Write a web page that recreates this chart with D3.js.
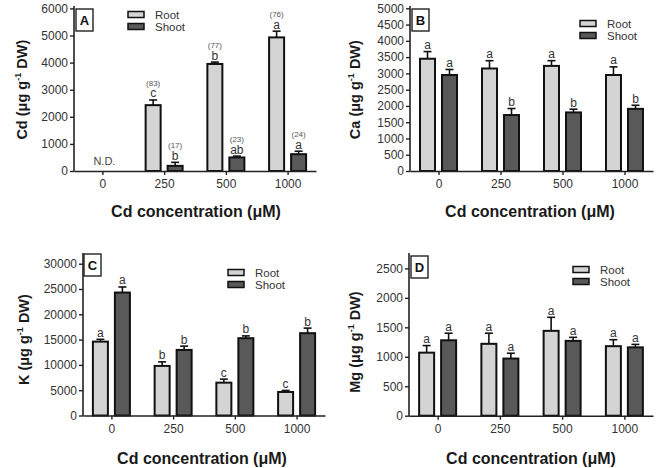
<!DOCTYPE html>
<html>
<head>
<meta charset="utf-8">
<script src="https://cdn.jsdelivr.net/npm/d3@7"></script>
<style>
  body { margin: 0; background: #fff; }
  text { font-family: "Liberation Sans", Arial, sans-serif; }
</style>
</head>
<body>
<svg id="fig" width="663" height="468"></svg>
<script>
const categories = ["0", "250", "500", "1000"];
const series = ["Root", "Shoot"];

// Panel A - Cd
const cdRoot = [null, 2430, 3950, 4930];
const cdRootErr = [null, 190, 70, 230];
const cdShoot = [null, 190, 500, 620];
const cdShootErr = [null, 130, 50, 110];
const cdRootLetters = ["", "c", "b", "a"];
const cdShootLetters = ["", "b", "ab", "a"];
const cdRootPct = ["", "(83)", "(77)", "(76)"];
const cdShootPct = ["", "(17)", "(23)", "(24)"];

// Panel B - Ca
const caRoot = [3450, 3150, 3230, 2950];
const caRootErr = [220, 240, 160, 250];
const caShoot = [2950, 1720, 1800, 1910];
const caShootErr = [170, 200, 100, 110];
const caRootLetters = ["a", "a", "a", "a"];
const caShootLetters = ["a", "b", "b", "b"];

// Panel C - K
const kRoot = [14600, 9800, 6490, 4650];
const kRootErr = [450, 800, 700, 300];
const kShoot = [24300, 12960, 15280, 16270];
const kShootErr = [1100, 750, 450, 1000];
const kRootLetters = ["a", "b", "c", "c"];
const kShootLetters = ["a", "b", "b", "b"];

// Panel D - Mg
const mgRoot = [1070, 1220, 1440, 1180];
const mgRootErr = [120, 180, 230, 110];
const mgShoot = [1280, 970, 1270, 1160];
const mgShootErr = [120, 90, 60, 50];
const mgRootLetters = ["a", "a", "a", "a"];
const mgShootLetters = ["a", "a", "a", "a"];

const yTicksA = d3.range(0, 6001, 1000);
const yTicksB = d3.range(0, 5001, 500);
const yTicksC = d3.range(0, 30001, 5000);
const yTicksD = d3.range(0, 2501, 500);

const fills = { Root: "#d4d4d4", Shoot: "#595959" };

const panels = [
  { tag: "A", el: "Cd", root: cdRoot, rootErr: cdRootErr, shoot: cdShoot, shootErr: cdShootErr,
    rootL: cdRootLetters, shootL: cdShootLetters, rootP: cdRootPct, shootP: cdShootPct,
    ticks: yTicksA, yMax: 6000,
    left: 74, right: 316, bottom: 171, top: 8.4, axisTop: 6,
    ylabX: 27, xlabX: 196, xlabY: 217, box: [76, 9], legend: [128, 10.5] },
  { tag: "B", el: "Ca", root: caRoot, rootErr: caRootErr, shoot: caShoot, shootErr: caShootErr,
    rootL: caRootLetters, shootL: caShootLetters,
    ticks: yTicksB, yMax: 5000,
    left: 410, right: 653, bottom: 171, top: 8.3, axisTop: 6,
    ylabX: 360, xlabX: 530, xlabY: 217, box: [412, 9], legend: [580, 19.5] },
  { tag: "C", el: "K", root: kRoot, rootErr: kRootErr, shoot: kShoot, shootErr: kShootErr,
    rootL: kRootLetters, shootL: kShootLetters,
    ticks: yTicksC, yMax: 30000,
    left: 83, right: 325, bottom: 415.5, top: 263.7, axisTop: 253,
    ylabX: 29, xlabX: 202, xlabY: 464, box: [84, 254], legend: [228, 268.5] },
  { tag: "D", el: "Mg", root: mgRoot, rootErr: mgRootErr, shoot: mgShoot, shootErr: mgShootErr,
    rootL: mgRootLetters, shootL: mgShootLetters,
    ticks: yTicksD, yMax: 2500,
    left: 409, right: 653, bottom: 415.7, top: 268.4, axisTop: 253,
    ylabX: 360, xlabX: 531, xlabY: 464, box: [411, 256], legend: [573, 265.5] }
];

const svg = d3.select("#fig");

panels.forEach(drawPanel);

function drawPanel(p) {
  const g = svg.append("g");
  const x = d3.scalePoint().domain(categories).range([p.left, p.right]).padding(0.46);
  const y = d3.scaleLinear().domain([0, p.yMax]).range([p.bottom, p.top]);
  const sub = d3.scaleBand().domain(series).range([-19.5, 19.5]).paddingInner(0.227);

  const rows = [];
  categories.forEach((c, i) => {
    rows.push({ cat: c, s: "Root", v: p.root[i], e: p.rootErr[i], l: p.rootL[i], pct: p.rootP ? p.rootP[i] : "" });
    rows.push({ cat: c, s: "Shoot", v: p.shoot[i], e: p.shootErr[i], l: p.shootL[i], pct: p.shootP ? p.shootP[i] : "" });
  });
  const data = rows.filter(d => d.v != null);

  // error bars (upper only)
  const eb = g.selectAll(".err").data(data).join("g").attr("class", "err")
    .attr("stroke", "#111").attr("stroke-width", 1.6);
  const cx = d => x(d.cat) + sub(d.s) + sub.bandwidth() / 2;
  eb.append("line")
    .attr("x1", cx).attr("x2", cx)
    .attr("y1", d => y(d.v)).attr("y2", d => y(d.v + d.e));
  eb.append("line")
    .attr("x1", d => cx(d) - 4).attr("x2", d => cx(d) + 4)
    .attr("y1", d => y(d.v + d.e)).attr("y2", d => y(d.v + d.e));

  // bars
  g.selectAll(".bar").data(data).join("rect").attr("class", "bar")
    .attr("x", d => x(d.cat) + sub(d.s) + 1)
    .attr("width", sub.bandwidth() - 2)
    .attr("y", d => y(d.v))
    .attr("height", d => y(0) - y(d.v))
    .attr("fill", d => fills[d.s])
    .attr("stroke", "#111").attr("stroke-width", 2);

  // significance letters
  g.selectAll(".let").data(data).join("text").attr("class", "let")
    .attr("x", cx).attr("y", d => y(d.v + d.e) - 2.5)
    .attr("text-anchor", "middle").attr("font-size", 12).attr("fill", "#333")
    .text(d => d.l);

  g.selectAll(".pct").data(data.filter(d => d.pct)).join("text").attr("class", "pct")
    .attr("x", cx).attr("y", d => y(d.v + d.e) - 14)
    .attr("text-anchor", "middle").attr("font-size", 8).attr("fill", "#555")
    .text(d => d.pct);

  if (p.tag === "A") {
    g.append("text").attr("x", x("0") + 2).attr("y", p.bottom - 6)
      .attr("text-anchor", "middle").attr("font-size", 11).attr("fill", "#444")
      .text("N.D.");
  }

  // axes
  const yAxis = d3.axisLeft(y).tickValues(p.ticks).tickSize(4).tickPadding(2)
    .tickFormat(d3.format("d")).tickSizeOuter(0);
  const ya = g.append("g").attr("transform", `translate(${p.left},0)`).call(yAxis);
  ya.select(".domain").remove();
  ya.append("line").attr("x1", 0).attr("x2", 0)
    .attr("y1", p.axisTop).attr("y2", p.bottom + 0.8)
    .attr("stroke", "#222").attr("stroke-width", 1.6);

  const xAxis = d3.axisBottom(x).tickSize(4).tickPadding(4.5).tickSizeOuter(0);
  const xa = g.append("g").attr("transform", `translate(0,${p.bottom})`).call(xAxis);
  xa.select(".domain").attr("stroke", "#222").attr("stroke-width", 1.6);

  [ya, xa].forEach(a => {
    a.selectAll(".tick line").attr("stroke", "#222").attr("stroke-width", 1.4);
    a.selectAll(".tick text").attr("font-size", 12).attr("fill", "#333")
      .attr("font-family", "Liberation Sans, Arial, sans-serif");
  });

  // y label
  const yl = g.append("text")
    .attr("transform", `translate(${p.ylabX},${(p.bottom + p.top) / 2}) rotate(-90)`)
    .attr("text-anchor", "middle").attr("font-size", 14.5).attr("font-weight", "bold").attr("fill", "#1a1a1a");
  yl.append("tspan").text(`${p.el} (μg g`);
  yl.append("tspan").attr("font-size", 9).attr("dy", -6).text("-1");
  yl.append("tspan").attr("dy", 6).text(" DW)");

  // x label
  g.append("text").attr("x", p.xlabX).attr("y", p.xlabY)
    .attr("text-anchor", "middle").attr("font-size", 16).attr("font-weight", "bold").attr("fill", "#1a1a1a")
    .text("Cd concentration (μM)");

  // panel tag box
  g.append("rect").attr("x", p.box[0]).attr("y", p.box[1]).attr("width", 17).attr("height", 22)
    .attr("fill", "#fff").attr("stroke", "#222").attr("stroke-width", 1.4);
  g.append("text").attr("x", p.box[0] + 8.5).attr("y", p.box[1] + 16)
    .attr("text-anchor", "middle").attr("font-size", 13).attr("font-weight", "bold").attr("fill", "#111")
    .text(p.tag);

  // legend
  const lg = g.append("g").attr("transform", `translate(${p.legend[0]},${p.legend[1]})`);
  series.forEach((s, i) => {
    lg.append("rect").attr("x", 0).attr("y", i * 12 + 1).attr("width", 16).attr("height", 6)
      .attr("fill", fills[s]).attr("stroke", "#111").attr("stroke-width", 1.5);
    lg.append("text").attr("x", 27).attr("y", i * 12 + 8.5)
      .attr("font-size", 11.5).attr("fill", "#333").text(s);
  });
}
</script>
</body>
</html>
